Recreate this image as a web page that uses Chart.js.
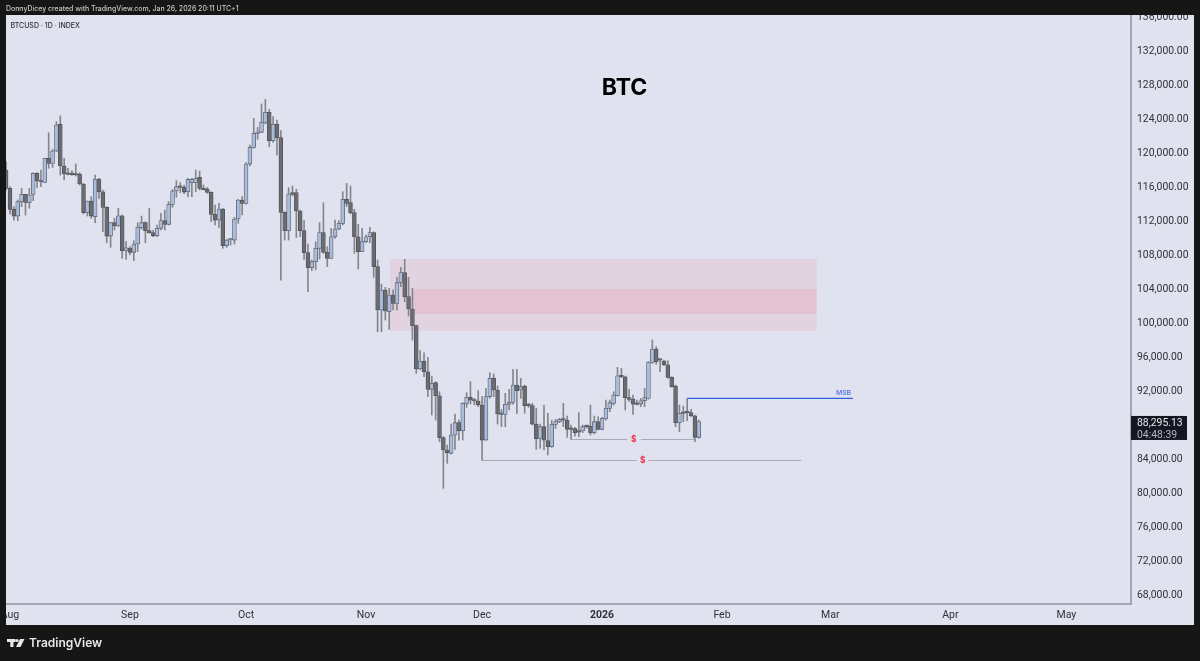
<!DOCTYPE html>
<html>
<head>
<meta charset="utf-8">
<title>BTC</title>
<script src="https://cdn.jsdelivr.net/npm/chart.js@4"></script>
<style>
  html, body { margin: 0; padding: 0; background: #161616; }
  canvas { display: block; filter: blur(0.3px); }
</style>
</head>
<body>
<canvas id="myChart" width="1200" height="661"></canvas>
<script>
// daily candles, first one is Jul 31 2025 (day -1), day 0 = Aug 1
const firstDay = -1;
const opens = [117840,115690,113220,112430,114120,114980,114000,114980,117450,116590,116390,119210,118620,120070,123210,118310,117370,117330,117370,117370,116200,112830,114200,112360,116780,115290,113450,110080,111650,111260,112470,108320,108670,108170,109150,111100,111650,110710,110480,110120,110990,111890,111460,113800,115370,115960,115800,115290,116350,116390,116980,115570,115610,115210,112630,111960,113260,108950,109650,109610,112080,114320,113920,118540,120500,122150,122270,123440,124620,121290,123210,121640,112870,110710,115180,115180,113020,110710,108130,106360,107070,108640,110480,108170,107460,110000,110910,111570,114390,114000,112830,110000,108240,109420,110000,110480,106480,101390,103740,101190,103150,102170,104600,105780,102960,101510,99550,94460,95400,94140,92070,92850,91320,86390,84940,84550,86700,88150,87210,90420,91130,90730,90700,90230,86110,91210,93360,91990,89250,89130,90310,90540,92580,91990,92460,90230,90150,87990,86310,87680,86040,85330,87950,88270,88540,88460,87410,87450,87130,87170,87760,87760,86980,88270,87370,88580,89830,90420,91320,93670,93550,91090,90930,90340,90340,90730,91010,95240,96810,95590,95400,94960,93480,92460,88150,89330,89440,89330,88970,86430];
const highs = [118820,115880,113530,114320,115690,114980,115690,117530,117530,117840,119210,122230,120270,123520,124190,119210,118040,117760,118540,117530,116270,114200,114710,117250,116860,115490,113530,111650,112160,113340,112550,109420,108830,109540,111650,112430,111770,113340,110790,111380,112750,113140,114120,115570,116590,116350,116080,116860,116860,117840,117720,116080,115800,115290,113730,113920,113340,109690,109730,112280,114390,114710,118700,120780,123910,122850,125600,126140,124970,124110,123720,122460,112940,115760,115960,115570,113140,111890,109150,107270,109420,111650,114000,108830,110990,111960,111890,115290,116270,115960,113220,111460,110990,110200,111100,110590,107260,104440,104050,103930,103740,105230,106400,107340,105230,103930,99630,96610,96370,95830,93630,92970,91790,86510,85530,87990,89170,88460,90500,91680,92970,91010,91910,91210,92180,94020,93870,92460,89720,91600,92070,94420,94420,93360,92580,90420,90420,89830,87990,90230,89250,88460,88540,88660,90420,88930,87880,87600,89330,87880,87880,90230,88930,88850,88780,90810,90810,91790,94650,94540,93630,92070,91400,90810,91010,92180,95320,97860,97080,95590,95510,95440,93560,92580,90230,90110,91010,89720,89050,88460];
const lows = [115490,112670,111960,111890,113530,112550,113340,114240,115800,115880,116350,118040,118150,119990,117250,116670,117250,117210,117130,116080,112670,112430,112160,111650,114510,110590,109300,108750,110790,111180,107460,107340,107850,107190,108240,110870,109300,110400,110000,110000,110790,110790,111380,113450,114630,115180,115020,114710,114710,115290,115490,115490,115100,111770,111380,111100,108630,108750,109030,109150,111570,112550,113840,118310,120390,121440,122230,123240,120580,121090,119600,104910,109610,109610,114790,109890,110000,107340,103540,106010,106090,107380,108050,106480,107460,109810,110790,111380,113530,112670,108050,106210,108240,109300,109300,105230,98840,98840,100210,99120,101390,101390,104130,102370,100680,97860,93950,94340,93550,91210,89050,88460,85920,80430,83370,84470,85020,86110,86110,89950,90340,90230,90030,83760,86110,91010,91210,87990,87680,87680,89640,90340,89250,91010,89250,89950,87880,85020,85130,84940,84350,85250,87480,88150,87680,86430,86190,86580,86500,86980,87480,86700,86820,87290,87290,88460,89440,90230,91280,93440,89640,90620,89130,90230,90030,90030,90930,95120,95000,94140,94850,93360,92300,87680,87090,88270,88380,88850,85920,86310];
const closes = [115690,113220,112430,114120,114980,114040,114900,117450,116590,116430,119210,118620,120070,123130,118310,117370,117330,117290,117250,116200,112830,114200,112430,116780,115290,113450,110080,111650,111260,112470,108320,108710,108170,109150,111100,111650,110710,110480,110120,110990,111890,111460,113800,115370,115880,115800,115250,116740,116740,116860,115690,115530,115210,112630,111960,113260,108950,109610,109690,112080,114320,113920,118540,120500,122150,122340,123440,124620,121290,123210,121640,112870,110710,115020,114980,113020,110710,108130,106360,107070,108640,110480,108170,107460,110000,110910,111570,114390,113920,112830,110000,108240,109420,110000,110480,106480,101390,103740,101270,103150,102170,104600,105780,102960,101510,99550,94460,95400,94140,92070,92770,91320,86390,84940,84620,86700,88150,87210,90420,91130,90810,90700,90230,86110,91210,93360,91990,89170,89130,90310,90540,92580,91910,92380,90150,90150,87990,86230,87680,86110,85330,87950,88270,88540,88460,87370,87370,86980,87050,87680,87680,86980,88270,87370,88660,89830,90500,91400,93670,93550,91090,90890,90340,90310,90730,91090,95240,96810,95320,95510,94960,93480,92380,88150,89250,89250,89330,88970,86430,88295];

const priceTicks = [68000,72000,76000,80000,84000,88000,92000,96000,100000,104000,108000,112000,116000,120000,124000,128000,132000,136000];
const monthDays = [0,31,61,92,122,153,184,212,243,273];
const monthLabels = ["Aug","Sep","Oct","Nov","Dec","2026","Feb","Mar","Apr","May"];

// drawings on the chart, days on the same count as the candles
const zoneOuter = [98.2, 208.5, 98924, 107383];
const zoneInner = [104, 208.5, 100920, 103860];
const msbLine = [[175, 91016], [217.8, 91016]];
const liqLine1 = [[145, 86175], [159.5, 86175], [159.5, null], [163, 86175], [177, 86175]];
const liqLine2 = [[122, 83707], [162, 83707], [162, null], [165, 83707], [204.5, 83707]];
const lastPrice = 88295.13;
const countdown = "04:48:39";

const BG = "#e0e3ef";
const FRAME = "#161616";
const TEXT = "#2e303a";
const FONT = "Inter, 'Liberation Sans', sans-serif";
const AXIS_FONT = "Roboto, 'Liberation Sans', sans-serif";

const days = opens.map((v, i) => firstDay + i);
const isUp = opens.map((v, i) => closes[i] >= v);

const toPoints = (arr) => arr.map((p) => ({ x: p[0], y: p[1] }));

const lineSet = (arr, color, width) => ({
  type: "line",
  data: toPoints(arr),
  borderColor: color,
  borderWidth: width,
  pointRadius: 0,
  spanGaps: false,
  order: 3,
});

// paints pane + axis background, zones under the candles
const background = {
  id: "background",
  beforeDraw(chart) {
    const c = chart.ctx;
    const a = chart.chartArea;
    const { x, y } = chart.scales;
    c.save();
    c.fillStyle = FRAME;
    c.fillRect(0, 0, 1200, 661);
    c.fillStyle = BG;
    c.fillRect(6, 15, 1188, 610);
    c.beginPath();
    c.rect(a.left, a.top, a.width, a.height);
    c.clip();
    const zone = (z, color) => {
      const x0 = x.getPixelForValue(z[0]);
      const x1 = x.getPixelForValue(z[1]);
      const y0 = y.getPixelForValue(z[3]);
      const y1 = y.getPixelForValue(z[2]);
      c.fillStyle = color;
      c.fillRect(x0, y0, x1 - x0, y1 - y0);
    };
    zone(zoneOuter, "rgba(242,54,69,0.09)");
    zone(zoneInner, "rgba(242,54,69,0.10)");
    c.restore();
  },
};

// everything written on top: frame text, price label, logo
const overlay = {
  id: "overlay",
  afterDraw(chart) {
    const c = chart.ctx;
    const { x, y } = chart.scales;
    c.save();

    // frame goes over the clipped tick labels
    c.fillStyle = FRAME;
    c.fillRect(0, 0, 1200, 15);
    c.fillRect(0, 0, 6, 661);

    c.textBaseline = "middle";
    c.textAlign = "left";
    c.fillStyle = "#c9c9c9";
    c.font = "500 6.95px " + FONT;
    c.fillText("DonnyDicey created with TradingView.com, Jan 26, 2026 20:11 UTC+1", 6, 9);

    c.fillStyle = TEXT;
    c.font = "500 7px " + FONT;
    c.fillText("BTCUSD · 1D · INDEX", 10.5, 25.5);

    c.fillStyle = "#000000";
    c.font = "700 23px " + FONT;
    c.textAlign = "center";
    c.fillText("BTC", 624.5, 88.5);

    c.fillStyle = "#5c7fe6";
    c.font = "600 6.8px " + FONT;
    c.fillText("MSB", 843.5, 393);

    c.fillStyle = "#f0304a";
    c.font = "700 8.5px " + FONT;
    c.fillText("$", x.getPixelForValue(161.2), y.getPixelForValue(liqLine1[0][1]));
    c.fillText("$", x.getPixelForValue(163.5), y.getPixelForValue(liqLine2[0][1]));

    // last price label
    const py = y.getPixelForValue(lastPrice);
    c.fillStyle = "#131722";
    c.fillRect(1131, py - 5.5, 56, 24);
    c.textAlign = "left";
    c.fillStyle = "#e8e8ec";
    c.font = "10.4px " + AXIS_FONT;
    c.fillText(lastPrice.toLocaleString("en-US", { minimumFractionDigits: 2 }), 1137, py + 1.5);
    c.fillStyle = "#b4b6bf";
    c.fillText(countdown, 1137, py + 13.5);

    // logo
    c.fillStyle = "#e6e6e6";
    c.fillRect(7, 639, 8.5, 3);
    c.fillRect(10.3, 639, 3.2, 8);
    c.beginPath();
    c.arc(17, 640.5, 1.6, 0, Math.PI * 2);
    c.fill();
    c.beginPath();
    c.moveTo(20, 639);
    c.lineTo(24.5, 639);
    c.lineTo(20.5, 647);
    c.lineTo(16, 647);
    c.closePath();
    c.fill();
    c.font = "600 12px " + FONT;
    c.fillText("TradingView", 29, 643.5);
    c.restore();
  },
};

const ctx = document.getElementById("myChart").getContext("2d");
const myChart = new Chart(ctx, {
  data: {
    datasets: [
      lineSet(msbLine, "#2f5fe0", 1.2),
      lineSet(liqLine1, "#a9abb8", 1),
      lineSet(liqLine2, "#a9abb8", 1),
      {
        // wicks
        type: "bar",
        grouped: false,
        data: days.map((d, i) => ({ x: d, y: [lows[i], highs[i]] })),
        backgroundColor: "#85868c",
        barThickness: 1,
        order: 2,
      },
      {
        // bodies
        type: "bar",
        grouped: false,
        data: days.map((d, i) => ({ x: d, y: [opens[i], closes[i]] })),
        backgroundColor: isUp.map((u) => (u ? "#a9bcdc" : "#6b6c71")),
        borderColor: isUp.map((u) => (u ? "#5f626e" : "#505156")),
        borderWidth: 0.8,
        borderSkipped: false,
        barThickness: 3.9,
        minBarLength: 1.5,
        order: 1,
      },
    ],
  },
  options: {
    responsive: false,
    animation: false,
    layout: { padding: { left: 6, top: 15, right: 6, bottom: 36 } },
    plugins: { legend: { display: false }, tooltip: { enabled: false } },
    scales: {
      x: {
        type: "linear",
        offset: false,
        min: -1.03,
        max: 289.7,
        grid: { display: false, drawTicks: false },
        border: { color: "#a2a5b3", width: 2 },
        afterFit: (axis) => {
          axis.height = 21;
          // first label must not push the pane to the right
          axis.paddingLeft = 0;
          axis.paddingRight = 0;
        },
        afterBuildTicks: (axis) => { axis.ticks = monthDays.map((v) => ({ value: v })); },
        ticks: {
          autoSkip: false,
          maxRotation: 0,
          padding: 5,
          color: TEXT,
          font: (c) => ({
            family: AXIS_FONT,
            size: 10.5,
            weight: c.tick && c.tick.value === monthDays[5] ? "700" : "400",
          }),
          callback: (v) => monthLabels[monthDays.indexOf(v)],
        },
      },
      y: {
        position: "right",
        min: 66846,
        max: 136054,
        grid: { display: false, drawTicks: false },
        border: { color: "#a2a5b3", width: 2 },
        afterFit: (axis) => {
          axis.width = 63;
          axis.paddingTop = 0;
          axis.paddingBottom = 0;
        },
        afterBuildTicks: (axis) => { axis.ticks = priceTicks.map((v) => ({ value: v })); },
        ticks: {
          autoSkip: false,
          padding: 6,
          color: TEXT,
          // empty first line + small line height nudges the text down to sit on the tick
          font: { family: AXIS_FONT, size: 10.4, lineHeight: "3px" },
          callback: (v) => ["", v.toLocaleString("en-US", { minimumFractionDigits: 2 })],
        },
      },
    },
  },
  plugins: [background, overlay],
});
</script>
</body>
</html>
